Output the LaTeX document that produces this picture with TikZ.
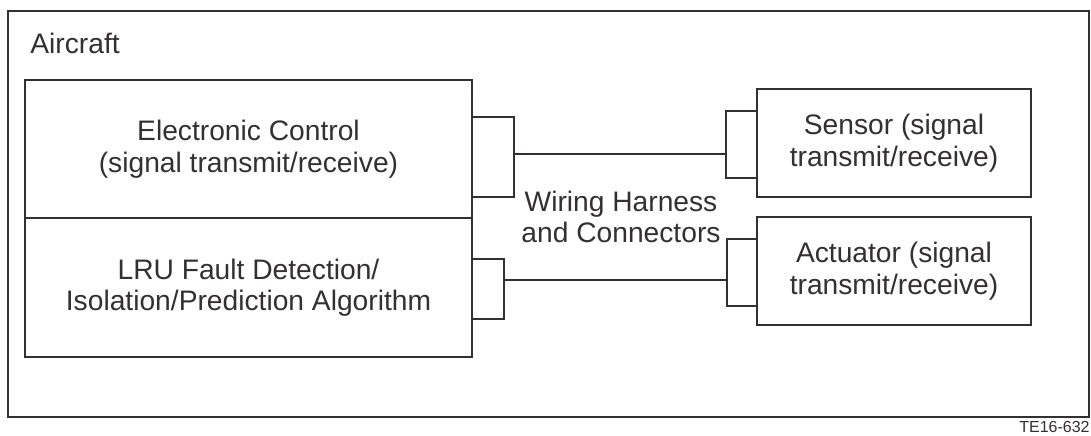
\documentclass[tikz,border=0pt]{standalone}
\usepackage{fontspec}
\setmainfont{Liberation Sans}
\definecolor{ink}{RGB}{52,48,48}
\begin{document}
\begin{tikzpicture}[x=0.5pt, y=-0.5pt,
  box/.style={draw=ink, line width=1.1pt, fill=white, inner sep=0pt, rectangle},
  plug/.style={draw=ink, line width=1.1pt, inner sep=0pt, rectangle},
  wire/.style={draw=ink, line width=1.1pt},
  lbl/.style={text=ink, font=\fontsize{14.1pt}{15.8pt}\selectfont, align=center}]
\useasboundingbox (0,0) rectangle (1091,435);

% enclosing aircraft boundary
\node[box, minimum width=540.5pt, minimum height=203pt] (aircraft) at (548.5,214) {};
\node[lbl, anchor=base west, inner sep=0pt] (aircraftlbl) at (30,53) {Aircraft};

% connector blocks (drawn first so the unit edges sit on top)
\node[plug, minimum width=21pt, minimum height=40pt] (c1) at (493,157) {};
\node[plug, minimum width=16pt, minimum height=30pt] (c2) at (488,289) {};
\node[plug, minimum width=16pt, minimum height=33.5pt] (sc) at (742,144.5) {};
\node[plug, minimum width=15pt, minimum height=33.5pt] (ac) at (742,272.5) {};

% controller units
\node[box, lbl, minimum width=223.5pt, minimum height=69pt] (ec) at (248.5,149)
  {Electronic Control\\(signal transmit/receive)};
\node[box, lbl, minimum width=223.5pt, minimum height=69.5pt] (lru) at (248.5,287.5)
  {LRU Fault Detection/\\Isolation/Prediction Algorithm};

% field devices
\node[box, lbl, minimum width=137pt, minimum height=54pt] (sensor) at (894,143)
  {Sensor (signal\\transmit/receive)};
\node[box, lbl, minimum width=137pt, minimum height=54pt] (actuator) at (894,271)
  {Actuator (signal\\transmit/receive)};

% harness wires
\coordinate (w1) at (0,154);
\coordinate (w2) at (0,280);
\draw[wire] (c1.east |- w1) -- (sc.west |- w1);
\draw[wire] (c2.east |- w2) -- (ac.west |- w2);

\node[lbl] (harness) at (621,217) {Wiring Harness\\and Connectors};

\node[text=ink, font=\fontsize{8pt}{9pt}\selectfont, anchor=base east, inner sep=0pt] (tag) at (1090,432) {TE16-632};
\end{tikzpicture}
\end{document}
